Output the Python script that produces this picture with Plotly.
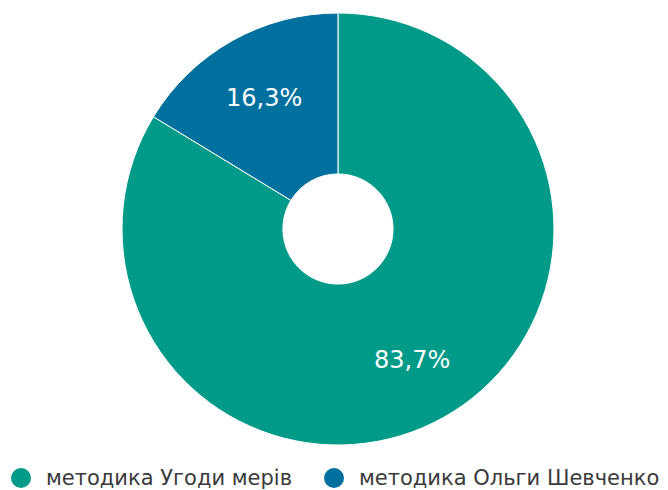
import math
import plotly.graph_objects as go

labels = ["методика Угоди мерів", "методика Ольги Шевченко"]
values = [83.7, 16.3]
value_text = ["83,7%", "16,3%"]
colors = ["#009B88", "#00709E"]

W, H = 668, 490
dom_x = [0.1826, 0.8293]
dom_y = [0.0918, 0.9735]

fig = go.Figure()
fig.add_trace(go.Pie(
    labels=labels, values=values, sort=False, direction="clockwise", rotation=0,
    hole=0.255,
    marker=dict(colors=colors, line=dict(color="white", width=1)),
    textinfo="none",
    domain=dict(x=dom_x, y=dom_y),
    showlegend=False, hoverinfo="label+percent",
))

annotations, shapes = [], []

# slice labels placed at the angular middle of each slice
cx = (dom_x[0] + dom_x[1]) / 2 * W
cy = (1 - (dom_y[0] + dom_y[1]) / 2) * H
R = min((dom_x[1] - dom_x[0]) * W, (dom_y[1] - dom_y[0]) * H) / 2
total = sum(values)
start = 0.0
for v, t in zip(values, value_text):
    mid = (start + v / 2) / total * 2 * math.pi
    start += v
    rr = 0.695 * R
    px = cx + rr * math.sin(mid)
    py = cy - rr * math.cos(mid)
    annotations.append(dict(text=t, xref="paper", yref="paper", x=px / W, y=1 - py / H,
                            xanchor="center", yanchor="middle", showarrow=False,
                            font=dict(family="DejaVu Sans", size=24, color="white")))

# manual legend (circle markers + labels)
legend_x = [21, 334]
legend_y = 478
for lab, col, lx in zip(labels, colors, legend_x):
    r = 10
    shapes.append(dict(type="circle", xref="paper", yref="paper",
                       x0=(lx - r) / W, x1=(lx + r) / W,
                       y0=1 - (legend_y + r) / H, y1=1 - (legend_y - r) / H,
                       fillcolor=col, line=dict(width=0)))
    annotations.append(dict(text=lab, xref="paper", yref="paper",
                            x=(lx + 23) / W, y=1 - legend_y / H,
                            xanchor="left", yanchor="middle", showarrow=False,
                            font=dict(family="DejaVu Sans", size=21, color="#3a3a3a")))

fig.update_layout(
    width=W, height=H, separators=", ",
    margin=dict(l=0, r=0, t=0, b=0),
    paper_bgcolor="white", plot_bgcolor="white",
    showlegend=False,
    shapes=shapes, annotations=annotations,
    font=dict(family="DejaVu Sans"),
)
fig.write_html("out.html", config={"displayModeBar": False},
               post_script="document.body.style.margin='0';")
